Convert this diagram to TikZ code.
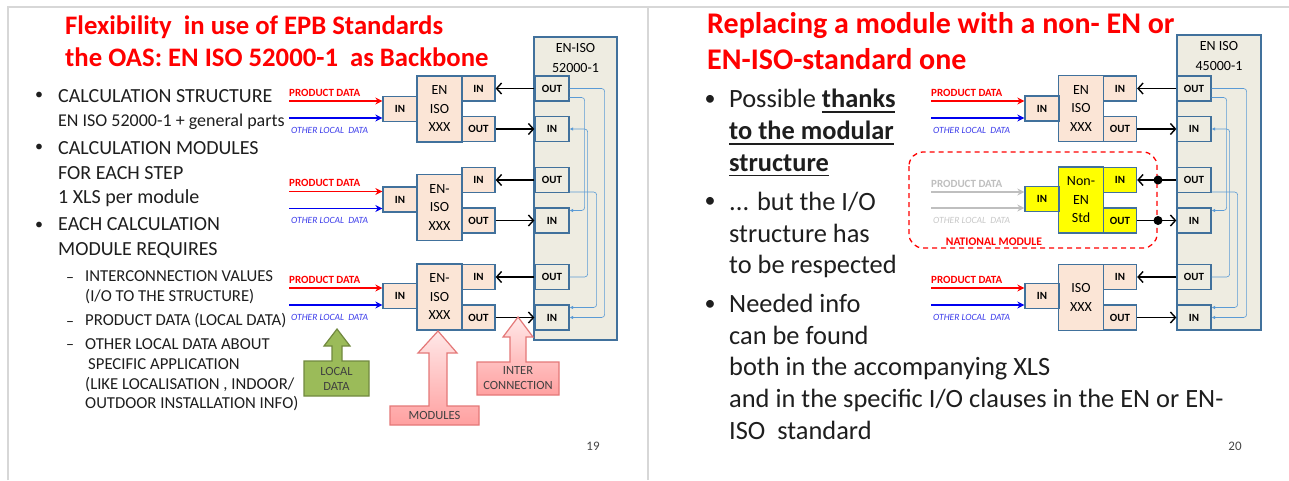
\documentclass[tikz,border=0pt]{standalone}
\usepackage{fontspec}
\setmainfont{Carlito}
\usetikzlibrary{arrows.meta}

\definecolor{slidered}{RGB}{255,0,0}
\definecolor{peach}{RGB}{251,229,214}
\definecolor{edgeblue}{RGB}{65,113,156}
\definecolor{spinegrey}{RGB}{238,236,225}
\definecolor{linkblue}{RGB}{91,155,213}
\definecolor{datablue}{RGB}{0,0,240}
\definecolor{localblue}{RGB}{60,60,235}
\definecolor{greyarrow}{RGB}{191,191,191}
\definecolor{greytext}{RGB}{200,200,200}
\definecolor{modyellow}{RGB}{255,255,0}
\definecolor{greenfill}{RGB}{155,187,89}
\definecolor{greenedge}{RGB}{113,137,63}
\definecolor{pinkfill}{RGB}{255,160,160}
\definecolor{pinklight}{RGB}{255,232,232}
\definecolor{pinkedge}{RGB}{228,120,120}
\definecolor{framegrey}{RGB}{215,215,215}
\definecolor{bodytext}{RGB}{30,30,30}
\definecolor{numgrey}{RGB}{70,70,70}

% underline for the bold words
\newcommand{\undertext}[1]{\setbox0\hbox{#1}\rlap{\rule[-5pt]{\wd0}{1.7pt}}\box0}

\begin{document}
\begin{tikzpicture}[x=1pt, y=-1pt,
    port/.style={draw=edgeblue, line width=1.3pt, fill=peach, minimum width=33pt, minimum height=25pt, inner sep=0pt, font=\bfseries\fontsize{11}{11}\selectfont},
    inport/.style={port, minimum width=34pt},
    spineport/.style={port, fill=spinegrey, minimum width=34pt},
    body/.style={draw=edgeblue, line width=1.3pt, fill=peach, minimum width=45pt, minimum height=66pt, inner sep=0pt, align=center, font=\fontsize{14}{18.5}\selectfont},
    spine/.style={draw=edgeblue, line width=1.3pt, fill=spinegrey, inner sep=0pt},
    spinetitle/.style={align=center, inner sep=0pt, font=\fontsize{14}{20}\selectfont},
    link/.style={-{Straight Barb[length=5pt,width=11pt]}, line width=1.4pt},
    feedback/.style={-{Latex[length=3.5pt,width=3.5pt]}, line width=0.6pt, linkblue, rounded corners=3pt},
    pdarrow/.style={-{Stealth[length=7pt,width=7pt]}, line width=1.4pt, slidered},
    localarrow/.style={pdarrow, datablue},
    greyinput/.style={pdarrow, greyarrow},
    pdlabel/.style={anchor=south west, inner sep=0pt, text=slidered, font=\bfseries\fontsize{11}{11}\selectfont},
    locallabel/.style={anchor=north west, inner sep=0pt, text=localblue, font=\itshape\fontsize{9.5}{9.5}\selectfont},
    slidetitle/.style={anchor=west, align=left, inner sep=0pt, text=slidered, font=\bfseries\fontsize{26.7}{32}\selectfont},
    pointtext/.style={anchor=west, align=left, inner sep=0pt, text=bodytext, font=\fontsize{20}{24.5}\selectfont},
    subtext/.style={pointtext, font=\fontsize{16.7}{19.8}\selectfont},
    bigpoint/.style={pointtext, font=\fontsize{26.4}{31.7}\selectfont},
    bulletdot/.style={inner sep=0pt, text=bodytext, font=\fontsize{16}{16}\selectfont},
    bigdot/.style={bulletdot, font=\fontsize{22}{22}\selectfont},
    pagenum/.style={inner sep=0pt, text=numgrey, font=\fontsize{13}{13}\selectfont},
    calloutgreen/.style={draw=greenedge, fill=greenfill, line width=1.2pt},
    calloutpink/.style={draw=pinkedge, top color=pinklight, bottom color=pinkfill, line width=1.2pt},
    callouttext/.style={align=center, inner sep=0pt, text=bodytext!85, font=\fontsize{12.5}{15}\selectfont},
    junction/.style={circle, fill=black, inner sep=0pt, minimum size=9pt},
    frameline/.style={draw=framegrey, line width=1.5pt},
    nationalframe/.style={draw=slidered, dash pattern=on 5pt off 4pt, line width=1.3pt, rounded corners=14pt}
]

  \useasboundingbox (0,0) rectangle (1289,480);
  \fill[white] (0,0) rectangle (1289,480);

  % slide borders
  \draw[frameline] (8,480) -- (8,7) -- (1289,7);
  \draw[frameline] (648,7) -- (648,480);

  % ---------------- slide 19 ----------------
  \node[slidetitle] (titleL) at (65,41) {Flexibility\ \ in use of EPB Standards\\the OAS: EN ISO 52000-1\ \ as Backbone};

  \node[bulletdot] (dotL1) at (39,96) {\textbullet};
  \node[pointtext] (structL) at (58,96) {CALCULATION STRUCTURE};
  \node[pointtext, font=\fontsize{18}{18}\selectfont] (structSubL) at (58,121.5) {EN ISO 52000-1 + general parts};
  \node[bulletdot] (dotL2) at (39,148) {\textbullet};
  \node[pointtext] (modulesL) at (58,174.5) {CALCULATION MODULES\\FOR EACH STEP\\1 XLS per module};
  \node[bulletdot] (dotL3) at (39,226) {\textbullet};
  \node[pointtext] (eachL) at (58,238) {EACH CALCULATION\\MODULE REQUIRES};
  \node[bulletdot] (dashL1) at (70,280) {--};
  \node[subtext] (interL) at (85,287.5) {INTERCONNECTION VALUES\\(I/O TO THE STRUCTURE)};
  \node[bulletdot] (dashL2) at (70,324) {--};
  \node[subtext] (productL) at (85,321) {PRODUCT DATA (LOCAL DATA)};
  \node[bulletdot] (dashL3) at (70,347) {--};
  \node[subtext] (otherL) at (85,375) {OTHER LOCAL DATA ABOUT\\\hspace{3pt}SPECIFIC APPLICATION\\(LIKE LOCALISATION , INDOOR/\\OUTDOOR INSTALLATION INFO)};

  \node[pagenum] (pageL) at (593,446) {19};

  % backbone
  \node[spine, minimum width=83pt, minimum height=303pt] (spineL) at (575.5,188.5) {};
  \node[spinetitle] (spineTitleL) at (575.5,58) {EN-ISO\\52000-1};
  \node[spineport] (lbOutA) at (552,88.5) {OUT};
  \node[spineport] (lbInA) at (552,129) {IN};
  \node[spineport] (lbOutB) at (552,180) {OUT};
  \node[spineport] (lbInB) at (552,220.5) {IN};
  \node[spineport] (lbOutC) at (552,277) {OUT};
  \node[spineport] (lbInC) at (552,317.5) {IN};

  % modules
  \node[body] (lmBodyA) at (439.5,109) {EN\\ISO\\XXX};
  \node[port] (lmInA) at (478.5,88.5) {IN};
  \node[port] (lmOutA) at (478.5,129) {OUT};
  \node[inport] (lmFeedA) at (400,109) {IN};

  \node[body] (lmBodyB) at (439.5,207.5) {EN-\\ISO\\XXX};
  \node[port] (lmInB) at (478.5,180) {IN};
  \node[port] (lmOutB) at (478.5,220.5) {OUT};
  \node[inport] (lmFeedB) at (400,199.5) {IN};

  \node[body] (lmBodyC) at (439.5,297) {EN-\\ISO\\XXX};
  \node[port] (lmInC) at (478.5,277) {IN};
  \node[port] (lmOutC) at (478.5,317.5) {OUT};
  \node[inport] (lmFeedC) at (400,296) {IN};

  \draw[link] (lbOutA) -- (lmInA);
  \draw[link] (lmOutA) -- (lbInA);
  \draw[link] (lbOutB) -- (lmInB);
  \draw[link] (lmOutB) -- (lbInB);
  \draw[link] (lbOutC) -- (lmInC);
  \draw[link] (lmOutC) -- (lbInC);

  % local inputs
  \coordinate (pdLA) at (289,101);
  \coordinate (olLA) at (289,118);
  \coordinate (pdLB) at (289,191.5);
  \coordinate (olLB) at (289,208.5);
  \coordinate (pdLC) at (289,288);
  \coordinate (olLC) at (289,305);
  \draw[pdarrow] (pdLA) -- (pdLA -| lmFeedA.west);
  \draw[localarrow] (olLA) -- (olLA -| lmFeedA.west);
  \draw[pdarrow] (pdLB) -- (pdLB -| lmFeedB.west);
  \draw[localarrow] (olLB) -- (olLB -| lmFeedB.west);
  \draw[pdarrow] (pdLC) -- (pdLC -| lmFeedC.west);
  \draw[localarrow] (olLC) -- (olLC -| lmFeedC.west);
  \node[pdlabel] (pdTextLA) at ([yshift=4.5pt]pdLA) {PRODUCT DATA};
  \node[locallabel] (olTextLA) at ([xshift=2pt,yshift=-9pt]olLA) {OTHER LOCAL\ \ DATA};
  \node[pdlabel] (pdTextLB) at ([yshift=4.5pt]pdLB) {PRODUCT DATA};
  \node[locallabel] (olTextLB) at ([xshift=2pt,yshift=-9pt]olLB) {OTHER LOCAL\ \ DATA};
  \node[pdlabel] (pdTextLC) at ([yshift=4.5pt]pdLC) {PRODUCT DATA};
  \node[locallabel] (olTextLC) at ([xshift=2pt,yshift=-9pt]olLC) {OTHER LOCAL\ \ DATA};

  % links inside the backbone
  \draw[feedback] (lbOutA.east) -- ++(35,0) |- (lbInC.east);
  \draw[feedback] ([yshift=-9pt]lbOutA.east) -- ++(15,0) |- ([yshift=10pt]lbInB.east);
  \draw[feedback] ([yshift=-12pt]lbOutB.east) -- ++(27,0) |- ([yshift=10pt]lbInC.east);
  \draw[feedback] (lbOutC.east) -- ++(18,0) |- (lbInA.east);

  % callouts
  \draw[calloutgreen] (304,361) -- (332,361) -- (332,346) -- (324,346) -- (337,329) -- (350,346) -- (342,346) -- (342,361) -- (369,361) -- (369,396) -- (304,396) -- cycle;
  \node[callouttext] (localText) at (336.5,378.5) {LOCAL\\DATA};
  \draw[calloutpink] (390,406) -- (429,406) -- (429,353) -- (418,353) -- (438,331) -- (457,353) -- (447,353) -- (447,406) -- (479,406) -- (479,425) -- (390,425) -- cycle;
  \node[callouttext] (modulesText) at (434.5,415.5) {MODULES};
  \draw[calloutpink] (477,362) -- (510,362) -- (510,337) -- (503,337) -- (518,317) -- (533,337) -- (526,337) -- (526,362) -- (559,362) -- (559,395) -- (477,395) -- cycle;
  \node[callouttext] (interText) at (518,378.5) {INTER\\CONNECTION};

  % ---------------- slide 20 ----------------
  \node[slidetitle, font=\bfseries\fontsize{30}{36}\selectfont] (titleR) at (707,41.3) {Replacing a module with a non- EN or\\EN-ISO-standard one};

  \node[bigdot] (dotR1) at (710,100) {\textbullet};
  \node[bigpoint] (thanksR) at (729,132.9) {Possible \undertext{\bfseries thanks}\\\undertext{\bfseries to the modular}\\\undertext{\bfseries structure}};
  \node[bigdot] (dotR2) at (710,202) {\textbullet};
  \node[bigpoint] (respectR) at (729,235.2) {... but the I/O\\structure has\\to be respected};
  \node[bigdot] (dotR3) at (710,305) {\textbullet};
  \node[bigpoint] (infoR) at (729,366.9) {Needed info\\can be found\\both in the accompanying XLS\\and in the specific I/O clauses in the EN or EN-\\ISO\ \ standard};

  \node[pagenum] (pageR) at (1235,446) {20};

  % backbone
  \node[spine, minimum width=84pt, minimum height=295pt] (spineR) at (1219,182.5) {};
  \node[spinetitle] (spineTitleR) at (1219,56) {EN ISO\\45000-1};
  \node[spineport] (rbOutA) at (1194,88.5) {OUT};
  \node[spineport] (rbInA) at (1194,129) {IN};
  \node[spineport] (rbOutB) at (1194,180) {OUT};
  \node[spineport] (rbInB) at (1194,220.5) {IN};
  \node[spineport] (rbOutC) at (1194,277) {OUT};
  \node[spineport] (rbInC) at (1194,317.5) {IN};

  % national module frame
  \draw[nationalframe] (909,152) rectangle (1157,248);
  \node[pdlabel, anchor=center, font=\bfseries\fontsize{11.6}{11.6}\selectfont] (nationalText) at (994,242) {NATIONAL MODULE};

  % modules
  \node[body] (rmBodyA) at (1081,108.5) {EN\\ISO\\XXX};
  \node[port] (rmInA) at (1120,88.5) {IN};
  \node[port] (rmOutA) at (1120,129) {OUT};
  \node[inport] (rmFeedA) at (1042,108.5) {IN};

  \node[body, fill=modyellow] (rmBodyB) at (1081,200) {Non-\\EN\\Std};
  \node[port, fill=modyellow] (rmInB) at (1120,180) {IN};
  \node[port, fill=modyellow] (rmOutB) at (1120,220.5) {OUT};
  \node[inport, fill=modyellow] (rmFeedB) at (1042,199) {IN};

  \node[body] (rmBodyC) at (1081,297.5) {ISO\\XXX};
  \node[port] (rmInC) at (1120,277) {IN};
  \node[port] (rmOutC) at (1120,317.5) {OUT};
  \node[inport] (rmFeedC) at (1042,296) {IN};

  \draw[link] (rbOutA) -- (rmInA);
  \draw[link] (rmOutA) -- (rbInA);
  \draw[link] (rbOutB) -- (rmInB);
  \draw[link] (rmOutB) -- (rbInB);
  \draw[link] (rbOutC) -- (rmInC);
  \draw[link] (rmOutC) -- (rbInC);
  \node[junction] (jointIn) at (1158,180) {};
  \node[junction] (jointOut) at (1158,220.5) {};

  % local inputs
  \coordinate (pdRA) at (931,101);
  \coordinate (olRA) at (931,118);
  \coordinate (pdRB) at (931,192);
  \coordinate (olRB) at (931,208);
  \coordinate (pdRC) at (931,288);
  \coordinate (olRC) at (931,305);
  \draw[pdarrow] (pdRA) -- (pdRA -| rmFeedA.west);
  \draw[localarrow] (olRA) -- (olRA -| rmFeedA.west);
  \draw[greyinput] (pdRB) -- (pdRB -| rmFeedB.west);
  \draw[greyinput] (olRB) -- (olRB -| rmFeedB.west);
  \draw[pdarrow] (pdRC) -- (pdRC -| rmFeedC.west);
  \draw[localarrow] (olRC) -- (olRC -| rmFeedC.west);
  \node[pdlabel] (pdTextRA) at ([yshift=4.5pt]pdRA) {PRODUCT DATA};
  \node[locallabel] (olTextRA) at ([xshift=2pt,yshift=-9pt]olRA) {OTHER LOCAL\ \ DATA};
  \node[pdlabel, text=greyarrow] (pdTextRB) at ([yshift=4.5pt]pdRB) {PRODUCT DATA};
  \node[locallabel, text=greytext] (olTextRB) at ([xshift=2pt,yshift=-9pt]olRB) {OTHER LOCAL\ \ DATA};
  \node[pdlabel] (pdTextRC) at ([yshift=4.5pt]pdRC) {PRODUCT DATA};
  \node[locallabel] (olTextRC) at ([xshift=2pt,yshift=-9pt]olRC) {OTHER LOCAL\ \ DATA};

  % links inside the backbone
  \draw[feedback] (rbOutA.east) -- ++(35,0) |- (rbInC.east);
  \draw[feedback] ([yshift=-9pt]rbOutA.east) -- ++(15,0) |- ([yshift=10pt]rbInB.east);
  \draw[feedback] ([yshift=-12pt]rbOutB.east) -- ++(26,0) |- ([yshift=10pt]rbInC.east);
  \draw[feedback] (rbOutC.east) -- ++(18,0) |- (rbInA.east);

\end{tikzpicture}
\end{document}
